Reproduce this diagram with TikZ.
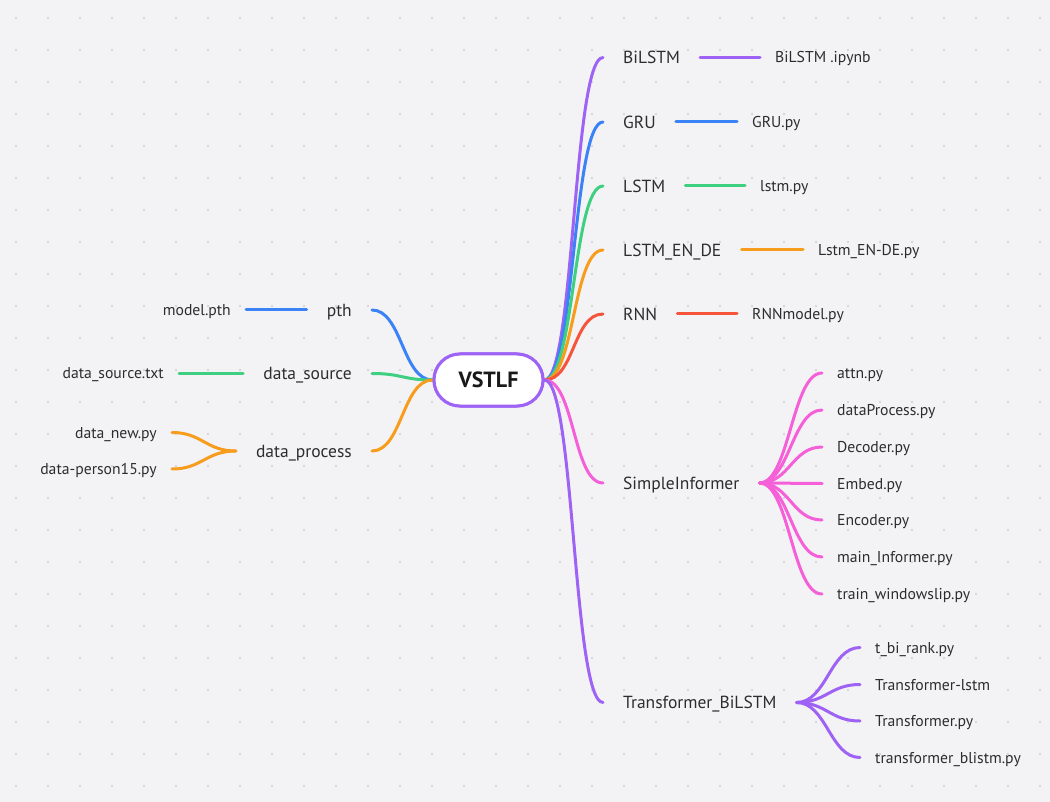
\documentclass[tikz,border=0pt]{standalone}
\usepackage{fontspec}
\setmainfont{PT Sans}
\definecolor{bg}{RGB}{243,243,246}
\definecolor{dotc}{RGB}{204,204,210}
\definecolor{txt}{RGB}{45,45,48}
\definecolor{cpurple}{RGB}{158,99,245}
\definecolor{cblue}{RGB}{59,130,246}
\definecolor{cgreen}{RGB}{62,207,128}
\definecolor{corange}{RGB}{247,156,28}
\definecolor{cred}{RGB}{247,84,60}
\definecolor{cpink}{RGB}{245,95,215}
\begin{document}
\begin{tikzpicture}[x=1pt,y=-1pt,
  mainlbl/.style={font=\fontsize{17.5}{20}\selectfont, text=txt, inner xsep=20pt, inner ysep=0pt, text height=12.2pt, text depth=0pt},
  leaflbl/.style={font=\fontsize{15.7}{18}\selectfont, text=txt, inner xsep=15pt, inner ysep=0pt, text height=11pt, text depth=0pt},
  rootbox/.style={draw=cpurple, line width=3pt, fill=white, rounded corners=26pt, minimum width=109pt, minimum height=52pt, inner sep=0pt, font=\fontsize{22}{26}\selectfont\bfseries, text=black!90},
  br/.style={line width=3pt, line cap=round},
  rcv/.style={br, out=0, in=180, distance=30pt},
  lcv/.style={br, out=180, in=0, distance=30pt}
]
\fill[bg] (0,0) rectangle (1050,802);
\useasboundingbox (0,0) rectangle (1050,802);
\foreach \i in {0,...,32}{
  \foreach \j in {0,...,24}{
    \fill[dotc] (16+32*\i,18+32*\j) circle (1.1pt);
  }
}
% root
\node[rootbox] (c) at (488.5,380) {VSTLF};
% right main branches
\node[mainlbl, anchor=west] (bilstm) at (603,57.5) {BiLSTM};
\node[mainlbl, anchor=west] (gru) at (603,122) {GRU};
\node[mainlbl, anchor=west] (lstm) at (603,186) {LSTM};
\node[mainlbl, anchor=west] (led) at (603,250) {LSTM\_EN\_DE};
\node[mainlbl, anchor=west] (rnn) at (603,314) {RNN};
\node[mainlbl, anchor=west] (si) at (603,483) {SimpleInformer};
\node[mainlbl, anchor=west] (tb) at (603,702.5) {Transformer\_BiLSTM};
% right leaves
\node[leaflbl, anchor=west] (bilstmf) at (760,57.5) {BiLSTM .ipynb};
\node[leaflbl, anchor=west] (gruf) at (737,122) {GRU.py};
\node[leaflbl, anchor=west] (lstmf) at (745,186) {lstm.py};
\node[leaflbl, anchor=west] (ledf) at (803,250) {Lstm\_EN-DE.py};
\node[leaflbl, anchor=west] (rnnf) at (737,314) {RNNmodel.py};
\node[leaflbl, anchor=west] (si1) at (822,373) {attn.py};
\node[leaflbl, anchor=west] (si2) at (822,410) {dataProcess.py};
\node[leaflbl, anchor=west] (si3) at (822,447) {Decoder.py};
\node[leaflbl, anchor=west] (si4) at (822,483.5) {Embed.py};
\node[leaflbl, anchor=west] (si5) at (822,520) {Encoder.py};
\node[leaflbl, anchor=west] (si6) at (822,557) {main\_Informer.py};
\node[leaflbl, anchor=west] (si7) at (822,594) {train\_windowslip.py};
\node[leaflbl, anchor=west] (tb1) at (860,647.5) {t\_bi\_rank.py};
\node[leaflbl, anchor=west] (tb2) at (860,684.5) {Transformer-lstm};
\node[leaflbl, anchor=west] (tb3) at (860,721) {Transformer.py};
\node[leaflbl, anchor=west] (tb4) at (860,757.5) {transformer\_blistm.py};
% left main branches
\node[mainlbl, anchor=east] (pth) at (372,310) {pth};
\node[mainlbl, anchor=east] (ds) at (372,373.5) {data\_source};
\node[mainlbl, anchor=east] (dp) at (372,451) {data\_process};
% left leaves
\node[leaflbl, anchor=east] (mp) at (246,310) {model.pth};
\node[leaflbl, anchor=east] (dst) at (179,373.5) {data\_source.txt};
\node[leaflbl, anchor=east] (dn) at (172,432.5) {data\_new.py};
\node[leaflbl, anchor=east] (dp15) at (172,469) {data-person15.py};
% right connectors from root
\draw[rcv, cpurple] (c.east) to (bilstm.west);
\draw[rcv, cblue] (c.east) to (gru.west);
\draw[rcv, cgreen] (c.east) to (lstm.west);
\draw[rcv, corange] (c.east) to (led.west);
\draw[rcv, cred] (c.east) to (rnn.west);
\draw[rcv, cpink] (c.east) to (si.west);
\draw[rcv, cpurple] (c.east) to (tb.west);
% right leaf lines
\draw[br, cpurple] (bilstm.east) -- (bilstmf.west);
\draw[br, cblue] (gru.east) -- (gruf.west);
\draw[br, cgreen] (lstm.east) -- (lstmf.west);
\draw[br, corange] (led.east) -- (ledf.west);
\draw[br, cred] (rnn.east) -- (rnnf.west);
\foreach \k in {si1,si2,si3,si4,si5,si6,si7}{
  \draw[rcv, cpink] (si.east) to (\k.west);
}
\foreach \k in {tb1,tb2,tb3,tb4}{
  \draw[rcv, cpurple] (tb.east) to (\k.west);
}
% left connectors
\draw[lcv, cblue] (c.west) to (pth.east);
\draw[lcv, cgreen] (c.west) to (ds.east);
\draw[lcv, corange] (c.west) to (dp.east);
\draw[br, cblue] (pth.west) -- (mp.east);
\draw[br, cgreen] (ds.west) -- (dst.east);
\draw[lcv, corange] (dp.west) to (dn.east);
\draw[lcv, corange] (dp.west) to (dp15.east);
\node[rootbox] at (c) {VSTLF};
\end{tikzpicture}
\end{document}
